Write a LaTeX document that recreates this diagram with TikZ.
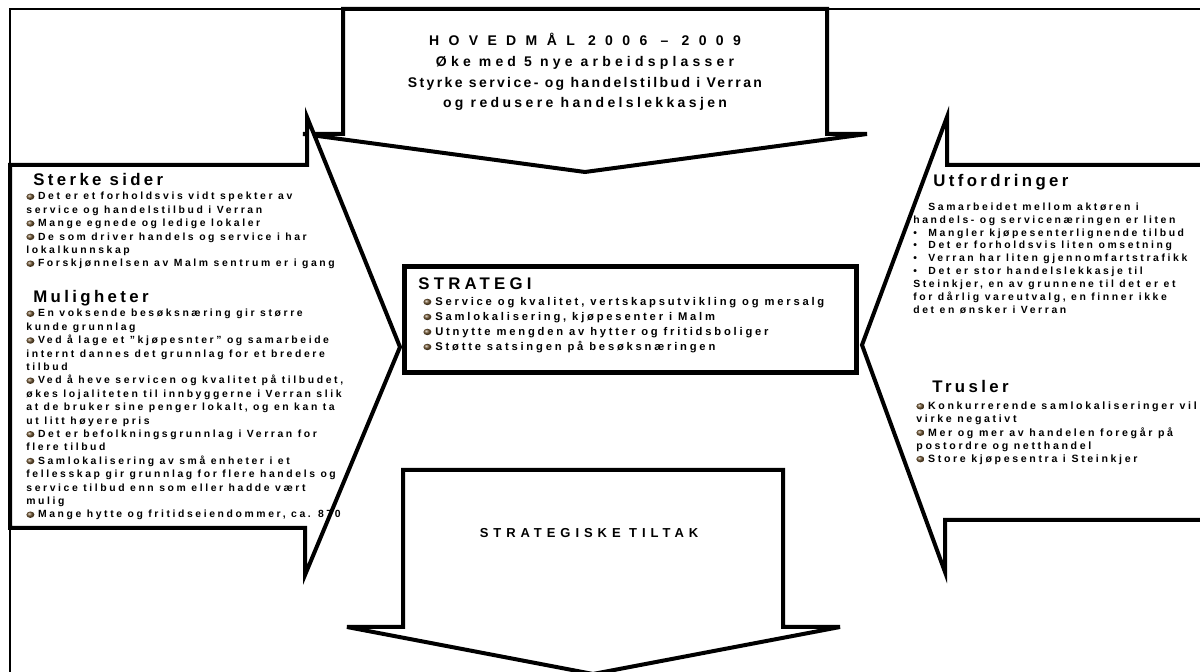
\documentclass[tikz,border=0pt]{standalone}
\usepackage{fontspec}
\setmainfont{Liberation Sans}
\newfontfamily\wide{Liberation Sans}[LetterSpace=25]
\newfontfamily\head{Liberation Sans}[LetterSpace=20]
\newfontfamily\titlea{Liberation Sans}[LetterSpace=67]
\newfontfamily\titleb{Liberation Sans}[LetterSpace=30]
\newfontfamily\titlec{Liberation Sans}[LetterSpace=17]
\newfontfamily\titled{Liberation Sans}[LetterSpace=24]
\newfontfamily\spread{Liberation Sans}[LetterSpace=38]
\definecolor{kulebrun}{RGB}{115,88,52}
\newcommand{\kule}{\tikz[baseline=-0.6ex]\shade[ball color=kulebrun] (0,0) ellipse (2pt and 1.6pt);\hspace{0.35em}}
\newcommand{\prikk}{\makebox[7.5pt][l]{\textbullet}}

\tikzset{
  pil/.style={draw=black, line width=2pt, line join=miter, fill=white},
  ramme/.style={draw=black, line width=1.2pt},
  tekst/.style={inner sep=0pt, align=left, anchor=base west,
    font=\wide\bfseries\fontsize{5.2}{6.7}\selectfont},
  overskrift/.style={inner sep=0pt, anchor=base west,
    font=\head\bfseries\fontsize{8.4}{10}\selectfont},
}

\begin{document}
\begin{tikzpicture}[x=0.5pt, y=-0.5pt]
\useasboundingbox (0,0) rectangle (1200,672);

% ramme
\draw[ramme] (10,165) -- (10,9) -- (1210,9);
\draw[ramme, line width=0.6pt] (10,528) -- (10,690);

% pilene
\draw[pil] (343,9) -- (343,134) -- (303,134) -- (585,172) -- (867,134) -- (827,134) -- (827,9) -- cycle;
\draw[pil] (10,165) -- (307,165) -- (307,117) -- (400,347) -- (305,575) -- (305,528) -- (10,528) -- cycle;
\draw[pil] (1215,165) -- (947,165) -- (947,117) -- (862,345) -- (945,572) -- (945,520) -- (1215,520);
\draw[pil] (403,470) -- (783,470) -- (783,627) -- (840,627) -- (593,674) -- (347,627) -- (403,627) -- cycle;
\draw[draw=black, line width=2.5pt, fill=white] (404,267) rectangle (856,373);

% hovedmaal (anker i siste linje)
\node[inner sep=0pt, align=center, anchor=base, font=\bfseries\fontsize{7}{10.35}\selectfont]
  (hovedmaal) at (585,108) {{\titlea HOVEDMÅL 2006 – 2009}\\
  {\titleb Øke med 5 nye arbeidsplasser}\\
  {\titlec Styrke service- og handelstilbud i Verran}\\
  {\titled og redusere handelslekkasjen}};

% venstre
\node[overskrift] (sterke) at (33,186) {Sterke sider};
\node[tekst] (sterkeliste) at (26,267) {\kule Det er et forholdsvis vidt spekter av\\
  service og handelstilbud i Verran\\
  \kule Mange egnede og ledige lokaler\\
  \kule De som driver handels og service i har\\
  lokalkunnskap\\
  \kule Forskjønnelsen av Malm sentrum er i gang};
\node[overskrift] (muligheter) at (33,303) {Muligheter};
\node[tekst] (mulighetliste) at (26,518) {\kule En voksende besøksnæring gir større\\
  kunde grunnlag\\
  \kule Ved å lage et ”kjøpesnter” og samarbeide\\
  internt dannes det grunnlag for et bredere\\
  tilbud\\
  \kule Ved å heve servicen og kvalitet på tilbudet,\\
  økes lojaliteten til innbyggerne i Verran slik\\
  at de bruker sine penger lokalt, og en kan ta\\
  ut litt høyere pris\\
  \kule Det er befolkningsgrunnlag i Verran for\\
  flere tilbud\\
  \kule Samlokalisering av små enheter i et\\
  fellesskap gir grunnlag for flere handels og\\
  service tilbud enn som eller hadde vært\\
  mulig\\
  \kule Mange hytte og fritidseiendommer, ca. 870};

% midten
\node[overskrift, font=\wide\bfseries\fontsize{8.4}{10}\selectfont] (strategi) at (418,289.5) {STRATEGI};
\node[tekst, font=\wide\bfseries\fontsize{5.6}{7.5}\selectfont] (strategiliste) at (423,350.5)
  {\kule Service og kvalitet, vertskapsutvikling og mersalg\\
  \kule Samlokalisering, kjøpesenter i Malm\\
  \kule Utnytte mengden av hytter og fritidsboliger\\
  \kule Støtte satsingen på besøksnæringen};

% hoyre
\node[overskrift] (utfordringer) at (933,186.5) {Utfordringer};
\node[tekst, font=\wide\bfseries\fontsize{5.2}{6.45}\selectfont] (utfordringliste) at (913,313.5)
  {\hspace{7.5pt}Samarbeidet mellom aktøren i\\
  handels- og servicenæringen er liten\\
  \prikk Mangler kjøpesenterlignende tilbud\\
  \prikk Det er forholdsvis liten omsetning\\
  \prikk Verran har liten gjennomfartstrafikk\\
  \prikk Det er stor handelslekkasje til\\
  Steinkjer, en av grunnene til det er et\\
  for dårlig vareutvalg, en finner ikke\\
  det en ønsker i Verran};
\node[overskrift] (trusler) at (932,392.5) {Trusler};
\node[tekst, font=\wide\bfseries\fontsize{5.3}{6.6}\selectfont] (truslerliste) at (916,462.5)
  {\kule Konkurrerende samlokaliseringer vil\\
  virke negativt\\
  \kule Mer og mer av handelen foregår på\\
  postordre og netthandel\\
  \kule Store kjøpesentra i Steinkjer};

% tiltak
\node[inner sep=0pt, anchor=base, font=\spread\bfseries\fontsize{6.5}{8}\selectfont]
  (tiltak) at (589,538) {STRATEGISKE TILTAK};
\end{tikzpicture}
\end{document}
